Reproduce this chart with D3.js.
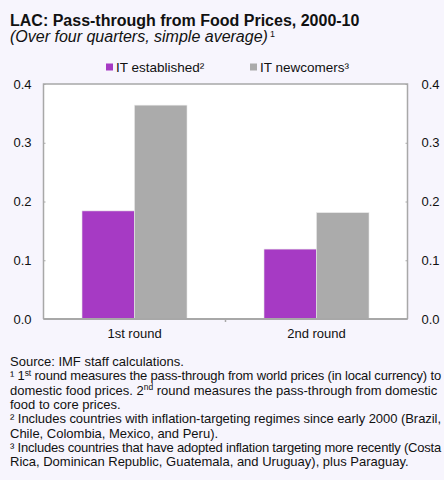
<!DOCTYPE html>
<html><head><meta charset="utf-8">
<script src="https://cdn.jsdelivr.net/npm/d3@7"></script>
<style>body{margin:0;background:#F7F5FD;}svg{display:block;font-family:"Liberation Sans",Arial,sans-serif;}</style>
</head><body>
<script>
const categories = ["1st round", "2nd round"];
const seriesNames = ["IT established", "IT newcomers"];
const seriesSup = ["²", "³"];
const itEstablished = [0.184, 0.119];
const itNewcomers = [0.364, 0.181];
const yTicks = [0.0, 0.1, 0.2, 0.3, 0.4];
const colors = ["#A63AC4", "#ABABAB"];

const W = 444, H = 480;
const svg = d3.select("body").append("svg").attr("width", W).attr("height", H);
svg.append("rect").attr("width", W).attr("height", H).attr("fill", "#F7F5FD");

// Title
svg.append("text").attr("x", 10).attr("y", 26).attr("font-size", 16).attr("font-weight", "bold")
  .attr("fill", "#111").text("LAC: Pass-through from Food Prices, 2000-10");
const sub = svg.append("text").attr("x", 10).attr("y", 42).attr("font-size", 16).attr("font-style", "italic").attr("fill", "#111");
sub.append("tspan").text("(Over four quarters, simple average)");
sub.append("tspan").attr("font-size", 9).attr("font-style", "normal").attr("dx", 2).attr("dy", -5).text("1");

const L = 43.5, R = 407.5, T = 84, B = 319;
const y = d3.scaleLinear().domain([0, 0.4]).range([B, T]);
const x0 = d3.scaleBand().domain(categories).range([L, R]).paddingInner(0.423).paddingOuter(0.2115);
const x1 = d3.scaleBand().domain(seriesNames).range([0, x0.bandwidth()]);

svg.append("rect").attr("x", L).attr("y", T).attr("width", R - L).attr("height", B - T).attr("fill", "#fff");

const data = categories.map((c, i) => ({cat: c, vals: [itEstablished[i], itNewcomers[i]]}));
const g = svg.append("g");
data.forEach(d => {
  d.vals.forEach((v, j) => {
    g.append("rect")
      .attr("x", x0(d.cat) + x1(seriesNames[j]))
      .attr("y", y(v))
      .attr("width", x1.bandwidth())
      .attr("height", y(0) - y(v))
      .attr("fill", colors[j])
      .attr("stroke", "#e8e8e8").attr("stroke-width", 0.6);
  });
});

// frame
const axisColor = "#A8A8A8";
svg.append("path").attr("d", `M${L},${B}V${T}H${R}V${B}`).attr("fill", "none").attr("stroke", axisColor).attr("stroke-width", 1.5);
svg.append("line").attr("x1", L).attr("x2", R).attr("y1", B).attr("y2", B).attr("stroke", axisColor).attr("stroke-width", 2);

// axes
const leftAxis = d3.axisLeft(y).tickValues(yTicks).tickFormat(d3.format(".1f")).tickSizeInner(-2).tickSizeOuter(0).tickPadding(12);
const ga = svg.append("g").attr("transform", `translate(${L},0)`).call(leftAxis);
const rightAxis = d3.axisRight(y).tickValues(yTicks).tickFormat(d3.format(".1f")).tickSizeInner(-2).tickSizeOuter(0).tickPadding(14);
const gb = svg.append("g").attr("transform", `translate(${R},0)`).call(rightAxis);
[ga, gb].forEach(a => {
  a.select(".domain").remove();
  a.selectAll(".tick line").attr("stroke", axisColor).attr("stroke-width", 1);
  a.selectAll(".tick text").attr("font-size", 13).attr("fill", "#111").attr("font-family", "Liberation Sans, Arial, sans-serif");
});

// bottom axis
const xAxis = d3.axisBottom(x0).tickSize(0).tickPadding(10);
const gx = svg.append("g").attr("transform", `translate(0,${B})`).call(xAxis);
gx.select(".domain").remove();
gx.selectAll(".tick text").attr("font-size", 13).attr("fill", "#111").attr("font-family", "Liberation Sans, Arial, sans-serif");
svg.append("line").attr("x1", (L + R) / 2).attr("x2", (L + R) / 2).attr("y1", B).attr("y2", B + 3).attr("stroke", axisColor).attr("stroke-width", 1.5);

// legend
const legX = [106, 250];
seriesNames.forEach((s, j) => {
  svg.append("rect").attr("x", legX[j]).attr("y", 63.5).attr("width", 7).attr("height", 7).attr("fill", colors[j]);
  const t = svg.append("text").attr("x", legX[j] + 10).attr("y", 72).attr("font-size", 13.5).attr("fill", "#111");
  t.append("tspan").text(s);
  t.append("tspan").text(seriesSup[j]);
});

// footnotes
const notes = [
  [["Source: IMF staff calculations."]],
  [["¹ 1"], ["st", 1], [" round measures the pass-through from world prices (in local currency) to"]],
  [["domestic food prices. 2"], ["nd", 1], [" round measures the pass-through from domestic"]],
  [["food to core prices."]],
  [["² Includes countries with inflation-targeting regimes since early 2000 (Brazil,"]],
  [["Chile, Colombia, Mexico, and Peru)."]],
  [["³ Includes countries that have adopted inflation targeting more recently (Costa"]],
  [["Rica, Dominican Republic, Guatemala, and Uruguay), plus Paraguay."]]
];
const maxW = 431;
notes.forEach((parts, i) => {
  const t = svg.append("text").attr("x", 10).attr("y", 366 + i * 14.3).attr("font-size", 13).attr("fill", "#111");
  parts.forEach(p => {
    if (p[1]) {
      t.append("tspan").attr("font-size", 8.5).attr("dy", -4.5).text(p[0]);
    } else {
      const ts = t.append("tspan").text(p[0]);
      if (t.selectAll("tspan").size() > 1) ts.attr("dy", 4.5);
    }
  });
  const w = t.node().getComputedTextLength();
  if (w > maxW) {
    const n = t.text().length;
    t.attr("letter-spacing", -(w - maxW) / n);
  }
});
</script>
</body></html>
